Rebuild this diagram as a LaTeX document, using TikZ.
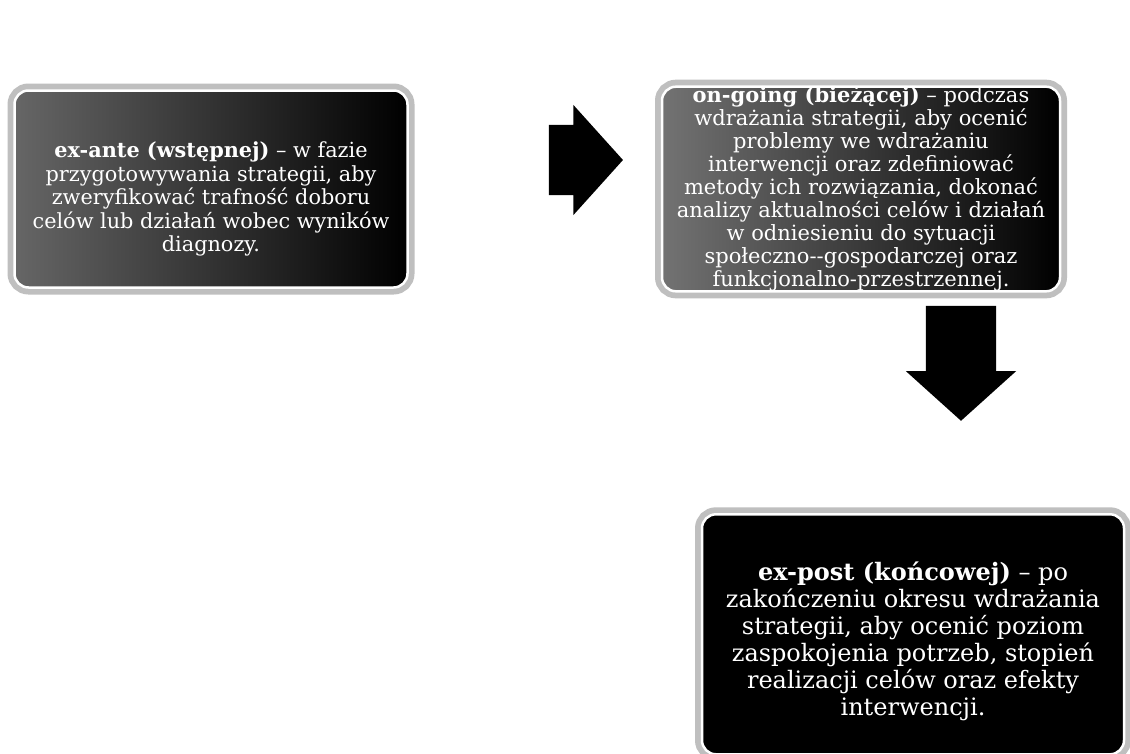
\documentclass[tikz,border=0pt]{standalone}
\usepackage{fontspec}
\setmainfont{DejaVu Serif}
\usetikzlibrary{positioning,shapes.arrows}

\tikzset{
  phase/.style={rounded corners=14pt, draw=white, line width=2.5pt, text=white,
    align=center, inner sep=0pt, preaction={draw=gray!50, line width=14pt}},
  blockarrow/.style={single arrow, fill=black, draw=none, inner xsep=0pt, inner ysep=35pt,
    single arrow head extend=20pt, single arrow tip angle=96}
}

\begin{document}
\begin{tikzpicture}[x=1pt, y=-1pt]
  \useasboundingbox[fill=white] (0,0) rectangle (1130,753);

  \node[phase, left color=black!60, right color=black, minimum width=393pt, minimum height=197pt,
        font=\fontsize{20.8}{23.5}\selectfont] (exante) at (211,189)
    {\rule{0pt}{36pt}\textbf{ex-ante (wstępnej)} – w fazie\\ przygotowywania strategii, aby\\ zweryfikować trafność doboru\\ celów lub działań wobec wyników\\ diagnozy.};
  \node[blockarrow, minimum height=74pt, right=140pt of exante, yshift=29pt] (arrA) {};
  \node[phase, left color=black!55, right color=black, minimum width=398pt, minimum height=197pt,
        font=\fontsize{21}{23}\selectfont, right=252pt of exante] (ongoing)
    {\textbf{on-going (bieżącej)} – podczas\\ wdrażania strategii, aby ocenić\\ problemy we wdrażaniu\\ interwencji oraz zdefiniować\\ metody ich rozwiązania, dokonać\\ analizy aktualności celów i działań\\ w odniesieniu do sytuacji\\ społeczno-{}-gospodarczej oraz\\ funkcjonalno-przestrzennej.};
  \node[blockarrow, inner xsep=35pt, inner ysep=0pt, minimum height=115pt, shape border rotate=270,
        below=13pt of ongoing, xshift=100pt] (arrB) {};
  \node[phase, fill=black, minimum width=422pt, minimum height=240pt,
        font=\fontsize{24}{27}\selectfont, below=92pt of arrB, xshift=-48pt] (expost)
    {\rule{0pt}{33pt}\textbf{ex-post (końcowej)} – po\\ zakończeniu okresu wdrażania\\ strategii, aby ocenić poziom\\ zaspokojenia potrzeb, stopień\\ realizacji celów oraz efekty\\ interwencji.};
\end{tikzpicture}
\end{document}
